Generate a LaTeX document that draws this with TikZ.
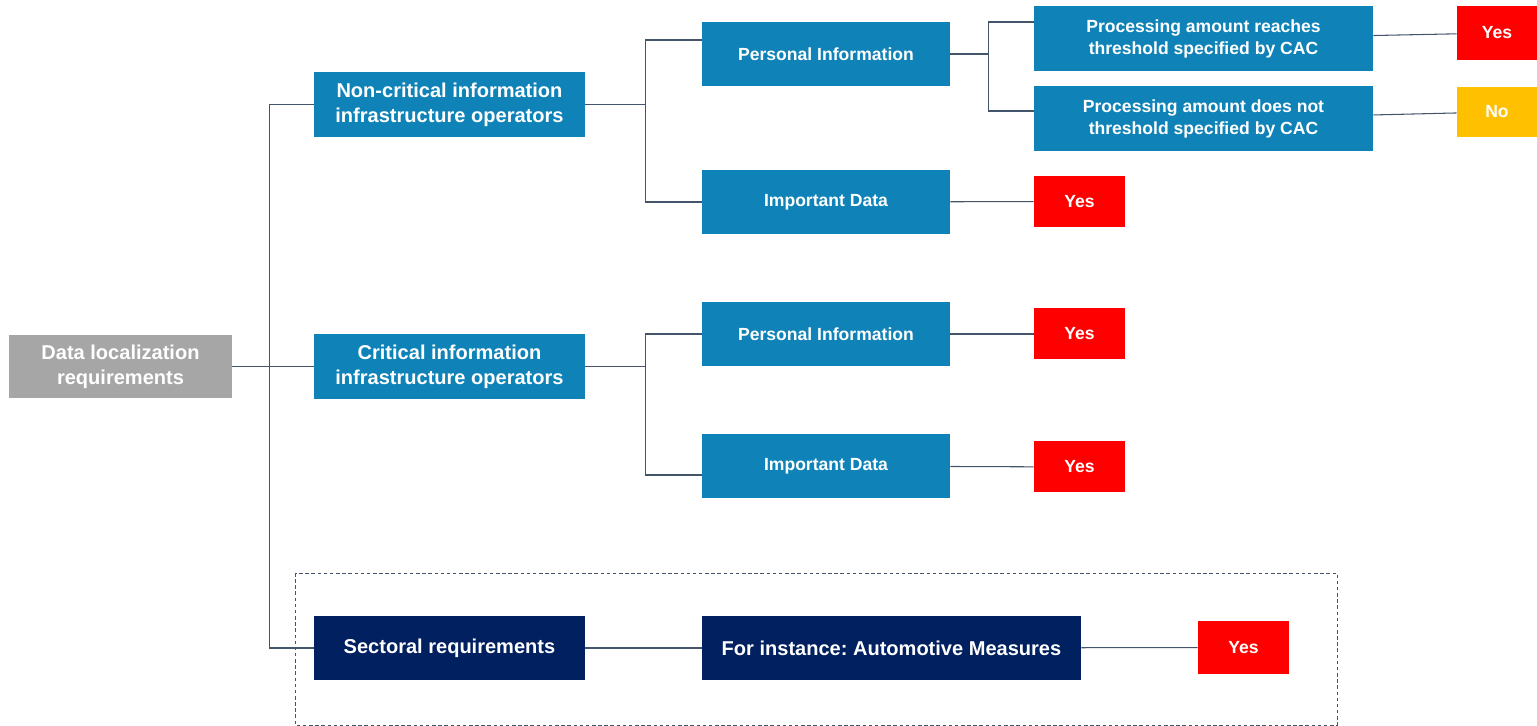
\documentclass[tikz,border=0pt]{standalone}
\usepackage{fontspec}
\setmainfont{Liberation Sans}
\usetikzlibrary{calc}

\definecolor{opblue}{RGB}{15,131,184}
\definecolor{navy}{RGB}{0,32,96}
\definecolor{linec}{RGB}{68,84,106}
\definecolor{boxgray}{RGB}{166,166,166}
\definecolor{amber}{RGB}{255,192,0}
\definecolor{yesred}{RGB}{255,0,0}

\frenchspacing
\begin{document}
\begin{tikzpicture}[x=0.2mm,y=-0.2mm]
\tikzstyle{box}=[inner sep=0pt,align=center,text=white,font=\fontsize{11.4}{14.2}\selectfont\bfseries]
\tikzstyle{op}=[box,fill=opblue,minimum width=5.42cm,minimum height=1.3cm]
\tikzstyle{kind}=[box,fill=opblue,minimum width=4.96cm,minimum height=1.28cm,font=\fontsize{10}{12.5}\selectfont\bfseries]
\tikzstyle{sect}=[box,fill=navy,minimum height=1.28cm]
\tikzstyle{ans}=[box,fill=yesred,minimum width=1.82cm,minimum height=1.02cm,font=\fontsize{10}{12}\selectfont\bfseries]
\tikzstyle{link}=[draw=linec,line width=0.6pt]
\useasboundingbox (0,0) rectangle (1537,726);

% sectoral branch sits in a dashed frame
\draw[linec,line width=0.5pt,dash pattern=on 2pt off 1.5pt] (295,573) rectangle (1337,725);

\node[box,fill=boxgray,minimum width=4.46cm,minimum height=1.26cm] (root) at (120.5,366.5) {Data localization\\requirements};
\node[op] (nc) at (449.5,104.5) {Non-critical information\\infrastructure operators};
\node[op] (cr) at (449.5,366.5) {Critical information\\infrastructure operators};
\node[sect,minimum width=5.42cm] (sec) at (449.5,648) {Sectoral requirements};
\node[sect,minimum width=7.58cm] (inst) at (891.5,648) {For instance: Automotive Measures};

\node[kind] (pi1) at (826,54) {Personal Information};
\node[kind] (id1) at (826,202) {Important Data};
\node[kind] (pi2) at (826,334) {Personal Information};
\node[kind] (id2) at (826,466) {Important Data};
\node[kind,minimum width=6.78cm,minimum height=1.3cm] (pr1) at (1203.5,39) {Processing amount reaches\\threshold specified by CAC};
\node[kind,minimum width=6.78cm,minimum height=1.3cm] (pr2) at (1203.5,119) {Processing amount does not\\threshold specified by CAC};

% answers
\node[ans,minimum width=1.6cm,minimum height=1.08cm] (yes-pr1) at (1497,33) {Yes};
\node[ans,fill=amber,minimum width=1.6cm,minimum height=1cm] (no-pr2) at (1497,112) {No};
\node[ans,minimum height=1.06cm] (yes-sec) at (1243.5,647.5) {Yes};
\foreach \n/\y in {id1/201.5,pi2/334,id2/467} {
 \node[ans] (yes-\n) at (1079.5,\y) {Yes};
 \draw[link] (\n) -- (yes-\n);
}
\draw[link] (pr1) -- (yes-pr1);
\draw[link] (pr2) -- (no-pr2);

% main trunk
\draw[link] (root) -- (cr);
\draw[link] (nc.west) -- ++(-44,0) coordinate (j0) |- (sec.west);

% non-critical operators
\draw[link] (nc.east) -- ++(60,0) coordinate (j1);
\draw[link] ([yshift=0.28cm]pi1.west) -| (j1) |- (id1.west);
\draw[link] (pi1.east) -- ++(38,0) coordinate (j3);
\draw[link] ([yshift=0.34cm]pr1.west) -| (j3) |- ([yshift=0.16cm]pr2.west);

% critical operators
\draw[link] (cr.east) -- ++(60,0) coordinate (j2);
\draw[link] (pi2.west) -| (j2) |- ([yshift=-0.18cm]id2.west);

% sectoral chain
\draw[link] (sec) -- (inst);
\draw[link] (inst) -- (yes-sec);
\end{tikzpicture}
\end{document}
